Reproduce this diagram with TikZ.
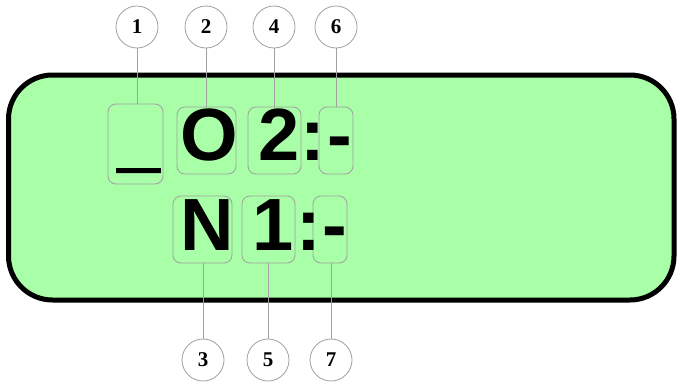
\documentclass[tikz,border=0pt]{standalone}
\usepackage{fontspec}
\setmainfont{Liberation Serif}
\newfontfamily\lcdfont{Liberation Sans}
\newfontfamily\lcdheavy[FakeBold=3]{Liberation Sans Bold}
\usetikzlibrary{calc}
\definecolor{lcdG}{RGB}{168,255,168}
\definecolor{markG}{RGB}{160,160,160}

\begin{document}
\begin{tikzpicture}[x=1pt,y=-1pt,
  cell/.style={draw=markG,line width=0.8pt,rounded corners=8pt,inner sep=0pt},
  glyph/.style={font=\lcdfont\bfseries\fontsize{74}{74}\selectfont,anchor=base,inner sep=0pt},
  tag/.style={circle,draw=markG,line width=0.8pt,minimum size=42pt,inner sep=0pt,
    font=\bfseries\fontsize{21}{21}\selectfont},
  lead/.style={markG,line width=0.8pt}]
\useasboundingbox (0,0) rectangle (677,383);
% display panel
\draw[line width=5pt,fill=lcdG,rounded corners=44pt] (8.5,75) rectangle (674,300);
% cells of the two rows
\node[cell,minimum width=55pt,minimum height=80pt] (b1) at (135.5,144) {};
\node[cell,minimum width=59pt,minimum height=67pt] (b2) at (206.5,140.5) {};
\node[cell,minimum width=53pt,minimum height=67pt] (b4) at (274.5,140.5) {};
\node[cell,minimum width=34pt,minimum height=67pt] (b6) at (336,140.5) {};
\node[cell,minimum width=59pt,minimum height=67pt] (b3) at (202.5,229.5) {};
\node[cell,minimum width=53pt,minimum height=67pt] (b5) at (268.5,229.5) {};
\node[cell,minimum width=34pt,minimum height=67pt] (b7) at (330,229.5) {};
% characters
\node[glyph,font=\lcdheavy\fontsize{74}{74}\selectfont] (u1) at (138.5,163) {\symbol{95}};
\node[glyph] (o2) at (209.5,160) {O};
\node[glyph] (n4) at (279.5,160) {2};
\node[glyph] (k4) at (312.5,160) {:};
\node[glyph] (d6) at (339.5,160) {-};
\node[glyph] (n3) at (207.5,250) {N};
\node[glyph] (n5) at (273,250) {1};
\node[glyph] (k5) at (308.5,250) {:};
\node[glyph] (d7) at (335,250) {-};
% numbered markers
\node[tag] (c1) at (137,27) {1};
\node[tag] (c2) at (206,27) {2};
\node[tag] (c4) at (274,27) {4};
\node[tag] (c6) at (336,27) {6};
\node[tag] (c3) at (203,360) {3};
\node[tag] (c5) at (268,360) {5};
\node[tag] (c7) at (331,360) {7};
\draw[lead] (c1.south) -- (c1.south |- b1.north);
\draw[lead] (c2.south) -- (c2.south |- b2.north);
\draw[lead] (c4.south) -- (c4.south |- b4.north);
\draw[lead] (c6.south) -- (c6.south |- b6.north);
\draw[lead] (c3.north) -- (c3.north |- b3.south);
\draw[lead] (c5.north) -- (c5.north |- b5.south);
\draw[lead] (c7.north) -- (c7.north |- b7.south);
\end{tikzpicture}
\end{document}
